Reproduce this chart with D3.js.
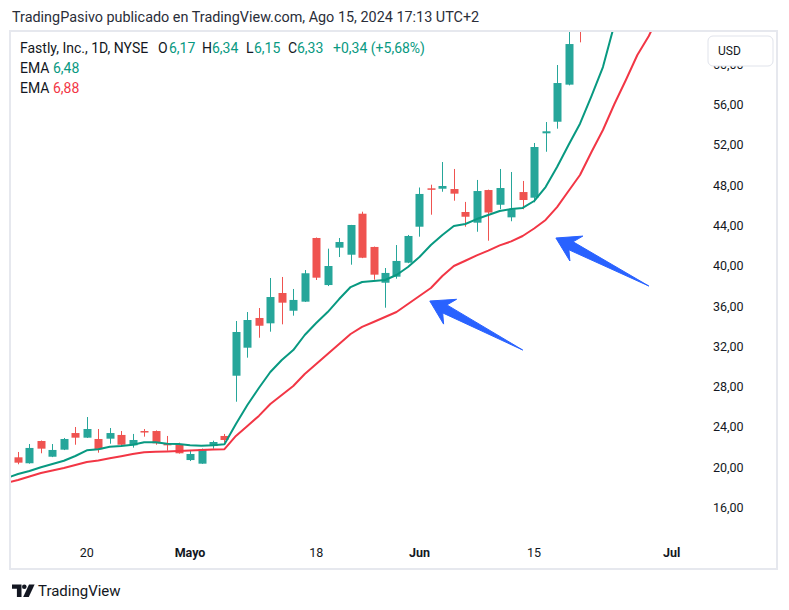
<!DOCTYPE html>
<html><head><meta charset="utf-8">
<script src="https://cdn.jsdelivr.net/npm/d3@7"></script>
<style>
body{margin:0;background:#fff;}
svg{display:block;font-family:Roboto,"Noto Sans",sans-serif;}
</style>
</head><body>
<svg id="c" width="789" height="610"></svg>
<script>
// ---- data ----
const open  = [21.03,20.44,22.65,21.09,21.79,23.44,22.98,22.85,22.88,23.25,22.22,23.64,23.64,22.42,22.35,20.76,20.40,22.15,23.15,29.13,31.91,34.86,34.33,37.34,35.58,36.48,42.80,38.13,41.84,41.14,45.21,41.91,38.36,38.96,40.35,43.92,47.73,47.69,47.66,45.38,44.32,47.56,46.10,44.85,47.36,46.80,53.19,54.34,58.02,66.00];
const high  = [21.56,22.35,22.70,22.35,22.95,24.04,25.03,23.84,23.94,23.64,23.35,23.84,23.70,23.15,22.48,21.76,21.90,22.68,23.35,34.56,35.45,35.85,38.83,38.93,37.74,39.62,42.85,41.74,42.80,44.10,45.41,41.95,39.82,42.10,43.10,47.81,48.09,50.34,49.65,46.38,48.56,47.60,49.65,49.35,48.46,52.23,54.31,59.97,63.60,67.50];
const low   = [20.34,20.40,21.43,21.05,21.75,22.28,22.95,21.49,22.38,22.25,21.99,23.08,22.28,21.69,21.40,20.66,20.38,21.89,22.48,26.55,30.92,32.90,33.50,34.23,35.09,36.45,38.63,38.03,40.91,40.15,40.80,38.66,35.88,38.76,40.30,42.93,45.11,47.39,46.50,43.92,43.42,42.53,45.65,44.46,45.65,46.34,51.36,53.65,57.95,62.22];
const close = [20.50,21.96,21.89,21.76,22.85,22.98,23.84,21.83,23.44,22.28,22.75,23.56,22.42,22.22,21.43,21.36,21.86,22.55,22.75,33.47,34.66,34.09,36.94,36.38,36.65,39.30,38.86,40.02,42.40,44.09,40.84,39.16,39.33,40.52,43.00,47.17,47.66,47.96,47.20,44.91,47.46,45.33,47.76,45.65,46.57,51.83,53.39,58.18,62.05,64.00];

// EMA values per bar, first value belongs to bar index -1
const emaFastStart = -1;
const emaFast = [18.98,19.37,19.67,20.04,20.37,20.69,21.16,21.73,21.83,22.08,22.15,22.28,22.52,22.52,22.38,22.35,22.22,22.18,22.22,22.32,24.34,26.22,27.91,29.50,30.69,31.68,33.17,34.36,35.45,36.74,37.93,38.43,38.53,38.63,39.13,39.92,40.91,42.10,43.10,43.99,44.19,44.68,45.08,45.48,45.68,45.78,46.47,47.86,49.85,52.03,54.14,56.89,59.77,64.00,67.50];
const emaSlowStart = -1;
const emaSlow = [18.48,18.78,19.13,19.47,19.72,19.97,20.27,20.57,20.72,20.94,21.14,21.35,21.54,21.58,21.61,21.66,21.71,21.76,21.80,21.84,23.15,24.14,25.14,26.32,27.22,28.11,29.30,30.29,31.29,32.28,33.27,33.97,34.46,34.96,35.45,36.25,37.04,37.84,39.03,40.02,40.54,41.08,41.55,42.07,42.46,43.00,43.74,44.59,45.87,47.46,49.05,51.33,53.52,56.10,58.48,60.96,62.85,65.23];

const priceTicks = [16,20,24,28,32,36,40,44,48,52,56,60];
const timeTickIndex  = [6,15,26,35,45,57];
const timeTickLabels = ["20","Mayo","18","Jun","15","Jul"];
const timeTickBold   = [false,true,false,true,false,true];

// annotation arrows: [index, price]
const arrowTail = [[44.0,31.68],[55.0,38.03]];
const arrowTip  = [[35.9,36.55],[46.9,42.80]];

const headerText = "TradingPasivo publicado en TradingView.com, Ago 15, 2024 17:13 UTC+2";

// ---- drawing ----
const svg = d3.select("#c");
const UP = "#26a69a", DOWN = "#ef5350", EMAG = "#089981", EMAR = "#f23645", TXT = "#131722";
const plot = {left:11, top:32, right:692, bottom:540};

const x = d3.scaleLinear().domain([0,49]).range([18,580]);
const y = d3.scaleLinear().domain([16,56]).range([508,105]);
const loc = d3.formatLocale({decimal:",",thousands:".",grouping:[3],currency:["","$"]});
const fmt = loc.format(".2f");

svg.append("rect").attr("width",789).attr("height",610).attr("fill","#fff");

// header
svg.append("text").attr("x",12).attr("y",22).attr("font-size",14.4).attr("fill","#2a2e39").text(headerText);

// frame
svg.append("rect").attr("x",10).attr("y",31).attr("width",767).attr("height",538)
  .attr("fill","none").attr("stroke","#e6e8ee").attr("stroke-width",2);

const defs = svg.append("defs");
defs.append("clipPath").attr("id","clip").append("rect")
  .attr("x",plot.left).attr("y",plot.top).attr("width",plot.right-plot.left).attr("height",plot.bottom-plot.top);

const g = svg.append("g").attr("clip-path","url(#clip)");

// candles
const bars = d3.range(open.length).map(i=>({i,o:open[i],h:high[i],l:low[i],c:close[i]}));
const bw = 8;
const cg = g.append("g");
cg.selectAll("line").data(bars).join("line")
  .attr("x1",d=>Math.round(x(d.i))+0.5).attr("x2",d=>Math.round(x(d.i))+0.5)
  .attr("y1",d=>y(d.h)).attr("y2",d=>y(d.l))
  .attr("stroke",d=>d.c>=d.o?UP:DOWN).attr("stroke-width",1);
cg.selectAll("rect").data(bars).join("rect")
  .attr("x",d=>Math.round(x(d.i))+0.5-bw/2).attr("width",bw)
  .attr("y",d=>y(Math.max(d.o,d.c)))
  .attr("height",d=>Math.max(1.5,Math.abs(y(d.o)-y(d.c))))
  .attr("fill",d=>d.c>=d.o?UP:DOWN);

// EMAs
const line = d3.line().x(d=>x(d[0])).y(d=>y(d[1]));
g.append("path").datum(emaSlow.map((v,k)=>[k+emaSlowStart,v]))
  .attr("d",line).attr("fill","none").attr("stroke",EMAR).attr("stroke-width",2).attr("stroke-linejoin","round");
g.append("path").datum(emaFast.map((v,k)=>[k+emaFastStart,v]))
  .attr("d",line).attr("fill","none").attr("stroke",EMAG).attr("stroke-width",2).attr("stroke-linejoin","round");

// arrows
function arrowPath(t, p){
  const tx=x(t[0]), ty=y(t[1]), px=x(p[0]), py=y(p[1]);
  const L=Math.hypot(px-tx,py-ty), ux=(px-tx)/L, uy=(py-ty)/L, nx=-uy, ny=ux;
  const h=23, w=14, nb=17, s=4.5;
  const pt=(a,b)=>[px-ux*a+nx*b, py-uy*a+ny*b];
  const pts=[[px,py],pt(h,w),pt(nb,s),[tx,ty],pt(nb,-s),pt(h,-w)];
  return "M"+pts.map(q=>q[0].toFixed(1)+","+q[1].toFixed(1)).join("L")+"Z";
}
g.selectAll("path.arrow").data(arrowTail.map((t,k)=>[t,arrowTip[k]])).join("path")
  .attr("class","arrow").attr("d",d=>arrowPath(d[0],d[1])).attr("fill","#2962ff")
  .attr("stroke","#2962ff").attr("stroke-width",1).attr("stroke-linejoin","round");

// price axis labels
svg.append("g").selectAll("text").data(priceTicks).join("text")
  .attr("x",713).attr("y",d=>y(d)+4).attr("font-size",12.5).attr("fill",TXT).text(d=>fmt(d));

// USD box
svg.append("rect").attr("x",708).attr("y",36).attr("width",65).attr("height",30).attr("rx",5)
  .attr("fill","#fff").attr("stroke","#e0e3eb");
svg.append("text").attr("x",718).attr("y",55).attr("font-size",12).attr("fill",TXT).text("USD");

// time axis labels
svg.append("g").selectAll("text").data(timeTickIndex).join("text")
  .attr("x",d=>x(d)).attr("y",557).attr("text-anchor","middle").attr("font-size",12.5)
  .attr("font-weight",(d,k)=>timeTickBold[k]?"bold":"normal").attr("fill",TXT)
  .text((d,k)=>timeTickLabels[k]);

// legend
const lg = svg.append("g").attr("font-size",14);
const legendItems = [
  {x:20,t:"Fastly, Inc., 1D, NYSE",c:TXT},
  {x:158,t:"O",c:TXT},{x:169,t:"6,17",c:EMAG},
  {x:202,t:"H",c:TXT},{x:212,t:"6,34",c:EMAG},
  {x:246,t:"L",c:TXT},{x:254,t:"6,15",c:EMAG},
  {x:288,t:"C",c:TXT},{x:297,t:"6,33",c:EMAG},
  {x:333,t:"+0,34 (+5,68%)",c:EMAG}
];
lg.selectAll("text.l1").data(legendItems).join("text").attr("class","l1")
  .attr("x",d=>d.x).attr("y",53).attr("fill",d=>d.c).text(d=>d.t);
lg.append("text").attr("x",20).attr("y",73).attr("fill",TXT).text("EMA");
lg.append("text").attr("x",53).attr("y",73).attr("fill",EMAG).text("6,48");
lg.append("text").attr("x",20).attr("y",93).attr("fill",TXT).text("EMA");
lg.append("text").attr("x",53).attr("y",93).attr("fill",EMAR).text("6,88");

// footer logo
const logo = svg.append("g").attr("fill",TXT);
logo.append("path").attr("d","M12,584.5h9.5v12.5h-4.6v-8.3h-4.9z");
logo.append("circle").attr("cx",24.3).attr("cy",586.7).attr("r",2.3);
logo.append("path").attr("d","M29,584.5h5.6l-5.8,12.5h-5.6z");
svg.append("text").attr("x",38).attr("y",596).attr("font-size",15).attr("fill",TXT).text("TradingView");
</script>
</body></html>
